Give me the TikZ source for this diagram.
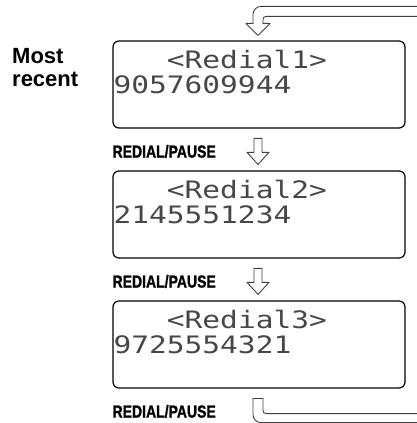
\documentclass[tikz,border=0pt]{standalone}
\usepackage{fontspec}
\setmainfont{Liberation Sans}
\newfontfamily\lcdfont[FakeStretch=1.23]{DejaVu Sans Mono}
\newfontfamily\keyfont[FakeStretch=0.8,FakeBold=1.2]{Liberation Sans Bold}
\usetikzlibrary{calc}

\begin{document}
\begin{tikzpicture}[x=1pt, y=-1pt,
  screen/.style={rectangle, draw, rounded corners=6pt, line width=1.2pt,
    minimum width=292pt, minimum height=87pt, inner sep=0pt},
  lcd/.style={font=\lcdfont\fontsize{24}{25}\selectfont, inner sep=0pt,
    anchor=base west, text=black!72},
  key/.style={font=\keyfont\fontsize{17.5}{19}\selectfont,
    inner sep=0pt, anchor=base west},
  note/.style={font=\bfseries\fontsize{22}{23}\selectfont, inner sep=0pt,
    anchor=base west},
  hollow/.style={draw=black!75, line width=0.9pt, line cap=round,
    line join=round}
]
\useasboundingbox (0,0) rectangle (416,423);

% Screens
\node[screen] (scr1) at (259,84.5)  {};
\node[screen] (scr2) at (259,214.5) {};
\node[screen] (scr3) at (259,344.5) {};

% Screen contents
\node[lcd] (name1) at ([shift={(1,28)}]scr1.north west) {\phantom{000}<Redial1>};
\node[lcd] (num1)  at ([shift={(1,53)}]scr1.north west) {9057609944};
\node[lcd] (name2) at ([shift={(1,28)}]scr2.north west) {\phantom{000}<Redial2>};
\node[lcd] (num2)  at ([shift={(1,53)}]scr2.north west) {2145551234};
\node[lcd] (name3) at ([shift={(1,28)}]scr3.north west) {\phantom{000}<Redial3>};
\node[lcd] (num3)  at ([shift={(1,53)}]scr3.north west) {9725554321};

% Labels
\node[note] (most)   at (12,63) {Most};
\node[note] (recent) at (12,86) {recent};
\node[key] (key1) at ([shift={(0,29)}]scr1.south west) {REDIAL/PAUSE};
\node[key] (key2) at ([shift={(0,29)}]scr2.south west) {REDIAL/PAUSE};
\node[key] (key3) at ([shift={(0,29)}]scr3.south west) {REDIAL/PAUSE};

% Key arrows between screens
\coordinate (tip2) at ([shift={(-1,-6)}]scr2.north);
\coordinate (tip3) at ([shift={(-1,-6)}]scr3.north);
\draw[hollow, shift={(tip2)}] (-4,-26) -- (4,-26) -- (4,-12) -- (11,-12)
  -- (0,0) -- (-11,-12) -- (-4,-12) -- cycle;
\draw[hollow, shift={(tip3)}] (-4,-26) -- (4,-26) -- (4,-12) -- (11,-12)
  -- (0,0) -- (-11,-12) -- (-4,-12) -- cycle;

% Return loop, last screen back to the first
\coordinate (tip1) at ([shift={(-1,-5)}]scr1.north);
\coordinate (ret) at ([shift={(-1,0)}]scr3.south);
\begin{scope}[shift={(tip1)}]
  \draw[hollow, rounded corners=3pt] (162,-19) -- (5,-19) -- (5,-12);
  \draw[hollow] (5,-12) -- (12,-12) -- (0,0) -- (-12,-12) -- (-5,-12);
  \draw[hollow, rounded corners=8pt] (-5,-12) -- (-5,-29) -- (162,-29);
\end{scope}
\begin{scope}[shift={(ret)}]
  \draw[hollow, rounded corners=3pt] (5,10) -- (5,25) -- (162,25);
  \draw[hollow] (5,10) -- (-5,10);
  \draw[hollow, rounded corners=8pt] (-5,10) -- (-5,34) -- (162,34);
\end{scope}
\end{tikzpicture}
\end{document}
